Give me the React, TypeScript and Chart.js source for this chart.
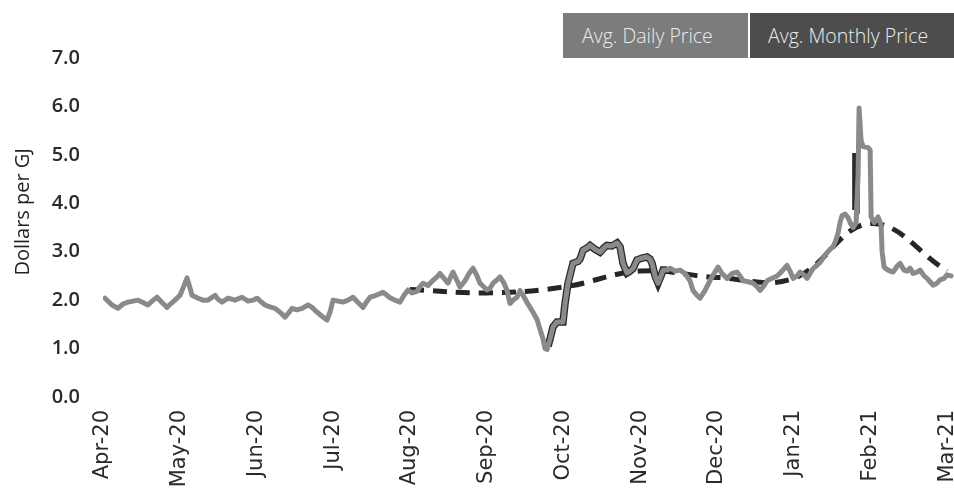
import React, { useEffect, useRef } from "react";
import { Chart, registerables } from "chart.js";

Chart.register(...registerables);

// Month tick labels (x = 0 .. 11)
const monthLabels = [
  "Apr-20", "May-20", "Jun-20", "Jul-20", "Aug-20", "Sep-20",
  "Oct-20", "Nov-20", "Dec-20", "Jan-21", "Feb-21", "Mar-21",
];

// Avg. Daily Price — x in months since Apr-20, y in $/GJ
const dailyX = [
  0.026, 0.117, 0.195, 0.261, 0.326, 0.391, 0.456, 0.521, 0.586, 0.639, 0.704, 0.769, 0.834, 0.886, 0.938,
  1.004, 1.056, 1.095, 1.134, 1.16, 1.238, 1.303, 1.368, 1.46, 1.499, 1.551, 1.629, 1.72, 1.812, 1.89, 1.955,
  2.007, 2.072, 2.111, 2.176, 2.242, 2.307, 2.372, 2.411, 2.463, 2.528, 2.594, 2.672, 2.724, 2.763, 2.828, 2.893, 2.919, 2.958,
  2.998, 3.063, 3.128, 3.193, 3.258, 3.323, 3.389, 3.428, 3.48, 3.558, 3.649, 3.701, 3.74, 3.806, 3.871, 3.923, 3.975,
  4.027, 4.092, 4.131, 4.171, 4.236, 4.301, 4.353, 4.392, 4.444, 4.496, 4.522, 4.561, 4.614, 4.653, 4.718, 4.77, 4.822, 4.874, 4.913,
  5.005, 5.044, 5.083, 5.135, 5.174, 5.226, 5.265, 5.304, 5.343, 5.396, 5.435, 5.474, 5.526, 5.565, 5.604, 5.656, 5.695, 5.734, 5.76, 5.787, 5.826, 5.865, 5.917, 5.995,
  6.021, 6.06, 6.099, 6.125, 6.191, 6.217, 6.256, 6.308, 6.347, 6.412, 6.477, 6.529, 6.568, 6.633, 6.699, 6.738, 6.777, 6.829, 6.868, 6.907, 6.959,
  7.025, 7.09, 7.129, 7.155, 7.194, 7.233, 7.272, 7.298, 7.35, 7.39, 7.455, 7.52, 7.585, 7.65, 7.689, 7.741, 7.781, 7.846, 7.911, 7.963,
  8.015, 8.067, 8.132, 8.198, 8.263, 8.302, 8.341, 8.406, 8.471, 8.523, 8.563, 8.615, 8.654, 8.719, 8.784, 8.849, 8.914, 8.953, 8.993,
  9.045, 9.084, 9.136, 9.175, 9.214, 9.253, 9.305, 9.345, 9.397, 9.436, 9.475, 9.514, 9.553, 9.579, 9.605, 9.632, 9.671, 9.71, 9.736, 9.775, 9.814, 9.84, 9.853, 9.879, 9.906, 9.971, 9.997,
  10.01, 10.049, 10.101, 10.14, 10.153, 10.179, 10.231, 10.296, 10.348, 10.387, 10.439, 10.478, 10.518, 10.557, 10.609, 10.648, 10.7, 10.739, 10.778, 10.817, 10.869, 10.908, 10.96, 10.999, 11.052,
];
const dailyY = [
  2.04, 1.9, 1.83, 1.92, 1.96, 1.98, 2.0, 1.95, 1.9, 1.98, 2.06, 1.95, 1.85, 1.93, 2.0,
  2.1, 2.3, 2.46, 2.25, 2.1, 2.04, 2.0, 2.0, 2.1, 2.02, 1.96, 2.04, 2.0, 2.06, 1.98, 2.0,
  2.04, 1.95, 1.9, 1.86, 1.83, 1.75, 1.65, 1.72, 1.83, 1.8, 1.83, 1.9, 1.85, 1.79, 1.7, 1.62, 1.59, 1.75,
  2.0, 1.98, 1.96, 2.0, 2.06, 1.95, 1.85, 1.95, 2.06, 2.1, 2.16, 2.1, 2.05, 2.0, 1.96, 2.1, 2.21,
  2.15, 2.18, 2.28, 2.35, 2.3, 2.41, 2.48, 2.55, 2.45, 2.35, 2.45, 2.58, 2.4, 2.27, 2.4, 2.55, 2.66, 2.5, 2.35,
  2.21, 2.25, 2.35, 2.42, 2.48, 2.35, 2.2, 1.93, 2.0, 2.06, 2.2, 2.1, 1.95, 1.85, 1.75, 1.6, 1.4, 1.2, 1.0, 0.98, 1.2, 1.45, 1.55, 1.55,
  1.93, 2.35, 2.6, 2.76, 2.8, 2.85, 3.03, 3.08, 3.13, 3.05, 2.99, 3.08, 3.13, 3.12, 3.18, 3.1, 2.76, 2.56, 2.6, 2.65, 2.83,
  2.87, 2.89, 2.85, 2.76, 2.5, 2.35, 2.5, 2.62, 2.62, 2.66, 2.6, 2.62, 2.55, 2.4, 2.2, 2.1, 2.04, 2.2, 2.41, 2.55,
  2.68, 2.55, 2.45, 2.55, 2.58, 2.5, 2.4, 2.38, 2.35, 2.28, 2.2, 2.3, 2.4, 2.45, 2.5, 2.6, 2.72, 2.6, 2.45,
  2.5, 2.58, 2.52, 2.45, 2.55, 2.65, 2.72, 2.78, 2.9, 2.98, 3.05, 3.1, 3.25, 3.38, 3.6, 3.75, 3.78, 3.7, 3.6, 3.5, 3.6, 4.6, 5.97, 5.3, 5.17, 5.15, 5.1,
  3.72, 3.6, 3.72, 3.55, 3.0, 2.68, 2.62, 2.58, 2.7, 2.76, 2.62, 2.6, 2.66, 2.55, 2.58, 2.62, 2.5, 2.45, 2.38, 2.31, 2.35, 2.42, 2.45, 2.52, 2.5,
];

// Dark trace seen under the daily line (Oct-20 run-up and Feb-21 spike)
const darkX = [
  5.8, 5.826, 5.865, 5.917, 5.995, 6.021, 6.06, 6.099, 6.125, 6.191, 6.217, 6.256, 6.308, 6.347, 6.412, 6.477,
  6.529, 6.568, 6.633, 6.699, 6.738, 6.777, 6.829, 6.868, 6.907, 6.959, 7.025, 7.09, 7.129, 7.155, 7.194, 7.233,
  7.272, 7.298, 7.35, 7.36, 9.8, 9.812,
];
const darkY = [
  1.05, 1.2, 1.45, 1.55, 1.55, 1.93, 2.35, 2.6, 2.76, 2.8, 2.85, 3.03, 3.08, 3.13, 3.05, 2.99,
  3.08, 3.13, 3.12, 3.18, 3.1, 2.76, 2.56, 2.6, 2.65, 2.83, 2.87, 2.89, 2.85, 2.76, 2.5, 2.35,
  2.5, 2.62, 2.62, null, 3.86, 5.04,
];

// Avg. Monthly Price — at month starts
const monthlyX = [4, 5, 6, 7, 8, 9, 10, 11];
const monthlyY = [2.22, 2.15, 2.27, 2.6, 2.47, 2.45, 3.58, 2.6];

const yTicks = [0, 1, 2, 3, 4, 5, 6, 7];

export default function App() {
  const ref = useRef<HTMLCanvasElement | null>(null);

  useEffect(() => {
    if (!ref.current) return;
    const toPts = (xs: number[], ys: (number | null)[]) => xs.map((x, i) => ({ x, y: ys[i] }));
    const chart = new Chart(ref.current, {
      type: "line",
      data: {
        datasets: [
          {
            label: "Avg. Daily Price",
            data: toPts(dailyX, dailyY),
            borderColor: "#8a8a8a",
            borderWidth: 5,
            pointRadius: 0,
            tension: 0,
            borderJoinStyle: "round",
            borderCapStyle: "round",
          },
          {
            label: "Avg. Monthly Price",
            data: toPts(monthlyX, monthlyY),
            borderColor: "#262626",
            borderWidth: 5,
            borderDash: [14, 9],
            pointRadius: 0,
            tension: 0.4,
          },
          {
            label: "overlay",
            data: toPts(darkX, darkY),
            borderColor: "#2a2a2a",
            borderWidth: 7.5,
            pointRadius: 0,
            tension: 0,
            spanGaps: false,
          },
        ],
      },
      options: {
        animation: false,
        responsive: false,
        devicePixelRatio: 1,
        layout: { padding: { left: 0, right: 0, top: 58, bottom: 0 } },
        plugins: { legend: { display: false }, tooltip: { enabled: false } },
        scales: {
          x: {
            type: "linear",
            min: 0,
            max: 11.09,
            grid: { display: false, drawTicks: false },
            border: { display: false },
            ticks: {
              stepSize: 1,
              includeBounds: false,
              autoSkip: false,
              minRotation: 90,
              maxRotation: 90,
              padding: 13,
              color: "#2a2a2a",
              font: { family: "DejaVu Sans", size: 21 },
              callback: (v: any) => monthLabels[Math.round(Number(v))] ?? "",
            },
            afterFit: (s: any) => {
              s.height = 96;
              s.paddingLeft = 0;
              s.paddingRight = 0;
            },
          },
          y: {
            min: 0,
            max: 7,
            grid: { display: false, drawTicks: false },
            border: { display: false },
            afterBuildTicks: (s: any) => {
              s.ticks = yTicks.map((v) => ({ value: v }));
            },
            ticks: {
              padding: 23,
              color: "#2a2a2a",
              font: { family: "Open Sans", size: 20, weight: "600" },
              callback: (v: any) => Number(v).toFixed(1),
            },
            title: {
              display: true,
              text: "\u00a0\u00a0\u00a0\u00a0\u00a0\u00a0Dollars per GJ",
              color: "#222222",
              font: { family: "Open Sans", size: 20 },
              padding: { top: 11, bottom: 0 },
            },
            afterFit: (s: any) => {
              s.width = 103;
            },
          },
        },
      },
    });
    return () => chart.destroy();
  }, []);

  const boxBase: React.CSSProperties = {
    position: "absolute",
    top: 13,
    height: 45,
    display: "flex",
    alignItems: "center",
    fontFamily: "'Open Sans', sans-serif",
    fontSize: 19.5,
    fontWeight: 300,
    color: "#ececec",
    whiteSpace: "nowrap",
    boxSizing: "border-box",
  };

  return (
    <div
      style={{
        position: "fixed",
        left: 0,
        top: 0,
        width: 954,
        height: 493,
        background: "#ffffff",
        overflow: "hidden",
      }}
    >
      <canvas ref={ref} width={954} height={493} style={{ display: "block" }} />
      <div style={{ ...boxBase, left: 563, width: 185, background: "#7c7c7c", paddingLeft: 19 }}>
        Avg. Daily Price
      </div>
      <div style={{ ...boxBase, left: 750, width: 210, background: "#4d4d4d", paddingLeft: 18 }}>
        Avg. Monthly Price
      </div>
    </div>
  );
}
